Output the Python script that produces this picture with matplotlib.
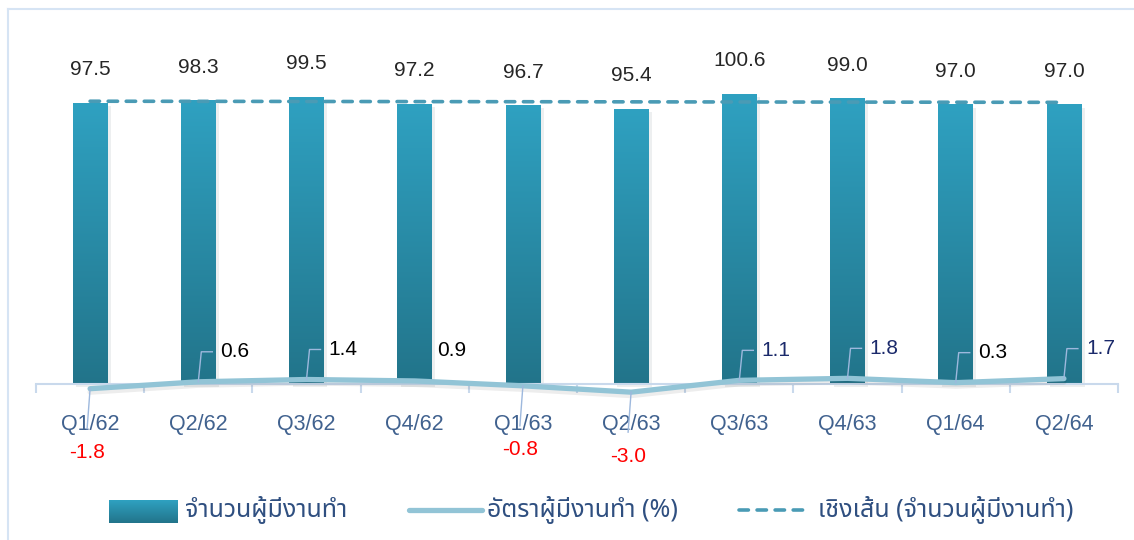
import numpy as np
import matplotlib
matplotlib.use("Agg")
import matplotlib.pyplot as plt
import matplotlib.transforms as mtransforms
from matplotlib import font_manager, patheffects as pe
from matplotlib.lines import Line2D
from matplotlib.ft2font import FT2Font

# Data
quarters = ["Q1/62", "Q2/62", "Q3/62", "Q4/62", "Q1/63",
            "Q2/63", "Q3/63", "Q4/63", "Q1/64", "Q2/64"]
employed = [97.5, 98.3, 99.5, 97.2, 96.7, 95.4, 100.6, 99.0, 97.0, 97.0]
growth = [-1.8, 0.6, 1.4, 0.9, -0.8, -3.0, 1.1, 1.8, 0.3, 1.7]
legend_labels = ["จำนวนผู้มีงานทำ", "อัตราผู้มีงานทำ (%)",
                 "เชิงเส้น (จำนวนผู้มีงานทำ)"]

# label styling for the growth line
growth_colors = ["red", "black", "black", "black", "red",
                 "red", "#1b2a6b", "#1b2a6b", "black", "#1b2a6b"]
growth_leader = [True, True, True, False, True, True, True, True, True, True]


def find_thai_font():
    names = []
    for f in font_manager.fontManager.ttflist:
        try:
            if ord("จ") in FT2Font(f.fname).get_charmap():
                names.append(f.name)
        except Exception:
            pass
    for pref in ["Tahoma", "Noto Sans Thai", "Leelawadee UI", "Loma", "Garuda"]:
        if pref in names:
            return pref
    return names[0] if names else "DejaVu Sans"


thai = find_thai_font()
plt.rcParams["font.family"] = ["Liberation Sans Narrow", "Liberation Sans", "DejaVu Sans"]

W, H = 1134, 540
fig = plt.figure(figsize=(W / 100, H / 100), dpi=100)
ax = fig.add_axes([36 / W, 139.2 / H, (1118 - 36) / W, (502.1 - 139.2) / H])

x = np.arange(len(quarters))

# bars with a vertical gradient
grad = np.linspace(0, 1, 256).reshape(-1, 1)
cmap = matplotlib.colors.LinearSegmentedColormap.from_list(
    "bar", ["#22748a", "#2fa1c1"])
bw = 0.32
bars = ax.bar(x, employed, width=bw, color="#2a8aa6", zorder=2,
              path_effects=[pe.SimplePatchShadow(offset=(2.5, -2.5), alpha=0.07),
                            pe.Normal()])
for b in bars:
    im = ax.imshow(grad, cmap=cmap, aspect="auto", origin="lower", zorder=2.1,
                   extent=(b.get_x(), b.get_x() + b.get_width(), 0, b.get_height()))
    im.set_clip_path(b)
ax.set_xlim(-0.5, 9.5)
ax.set_ylim(-6, 120)

for xi, v in zip(x, employed):
    ax.annotate(f"{v:.1f}", (xi, v), xytext=(0, 33), textcoords="offset pixels",
                ha="center", va="center", fontsize=15, color="#262626")

# trend line
coef = np.polyfit(x, employed, 1)
ax.plot([x[0], x[-1]], np.polyval(coef, [x[0], x[-1]]), color="#4a9bb5",
        lw=2.6, dashes=(2.6, 2.4), dash_capstyle="round", zorder=3)

# growth line (same scale, zero on the axis)
ax.plot(x, growth, color="#92c4d6", lw=3.8, solid_capstyle="round",
        solid_joinstyle="round", zorder=4,
        path_effects=[pe.SimpleLineShadow(offset=(0, -2.5), alpha=0.07), pe.Normal()])

# growth labels with leader lines (pixel offsets)
ident = mtransforms.IdentityTransform()
for xi, g, c, lead in zip(x, growth, growth_colors, growth_leader):
    bx, by = ax.transData.transform((xi, g))
    if g >= 0:
        if lead:
            fig.add_artist(Line2D([bx, bx + 3, bx + 14], [by, by + 30, by + 30],
                                  transform=ident, color="#9db8dd", lw=1.0, zorder=5))
        ax.annotate(f"{g:.1f}", (xi, g), xytext=(22, 30), textcoords="offset pixels",
                    ha="left", va="center", fontsize=15, color=c)
    else:
        fig.add_artist(Line2D([bx, bx - 3], [by, by - 40], transform=ident,
                              color="#9db8dd", lw=1.0, zorder=5))
        ax.annotate(f"{g:.1f}", (xi, g), xytext=(-3, -64), textcoords="offset pixels",
                    ha="center", va="center", fontsize=15, color=c)

# axes styling
for s in ["top", "right", "left"]:
    ax.spines[s].set_visible(False)
ax.spines["bottom"].set_position(("data", 0))
ax.spines["bottom"].set_color("#c9d9ec")
ax.spines["bottom"].set_linewidth(1.5)
ax.set_yticks([])
ax.set_xticks(x, quarters)
ax.set_xticks(np.arange(-0.5, 10, 1), minor=True)
ax.tick_params(axis="x", which="major", length=0, pad=22, labelsize=15.5,
               labelcolor="#41628f")
ax.tick_params(axis="x", which="minor", length=6.5, width=1.5, color="#c9d9ec")

# outer frame (top and left edges visible)
fig.add_artist(Line2D([8 / W, 1.01], [1 - 9 / H, 1 - 9 / H], transform=fig.transFigure,
                      color="#d6e4f4", lw=1.5))
fig.add_artist(Line2D([8 / W, 8 / W], [1 - 9 / H, -0.01], transform=fig.transFigure,
                      color="#d6e4f4", lw=1.5))

# legend
leg_y = 1 - 510 / H
lax = fig.add_axes([109 / W, 17 / H, 69 / W, 23 / H])
lax.imshow(grad, cmap=cmap, aspect="auto", origin="lower")
lax.axis("off")
fig.add_artist(Line2D([409 / W, 482 / W], [leg_y, leg_y], transform=fig.transFigure,
                      color="#92c4d6", lw=3.8, solid_capstyle="round"))
fig.add_artist(Line2D([739 / W, 811 / W], [leg_y, leg_y], transform=fig.transFigure,
                      color="#4a9bb5", lw=2.6, dashes=(2.6, 2.4), dash_capstyle="round"))
for lx, txt in zip([185, 487, 818], legend_labels):
    fig.text(lx / W, leg_y, txt, ha="left", va="center", fontsize=18,
             color="#2f4f80", family=[thai, "DejaVu Sans"])

fig.savefig("out.png", dpi=100)
